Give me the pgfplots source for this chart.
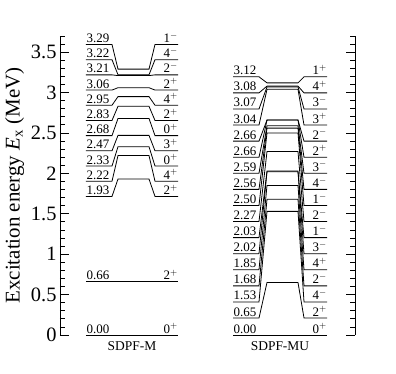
\documentclass[border=0pt]{standalone}
\usepackage{fontspec}
\setmainfont{Liberation Serif}
\usepackage{pgfplots}
\pgfplotsset{compat=1.18}
\tikzset{
  lvl/.style={black, line width=0.8pt, mark=none},
  elab/.style={anchor=base west, inner sep=0pt, yshift=2bp, font=\fontsize{13}{15}\selectfont},
  slab/.style={anchor=base east, inner sep=0pt, yshift=2bp, font=\fontsize{13}{15}\selectfont},
}
% SDPF-M level: #1 energy, #2 label position, #3 energy text, #4 spin
\newcommand\lvM[4]{%
  \addplot[lvl] coordinates {(86,#2)(112,#2)(118,#1)(149,#1)(155,#2)(178,#2)};
  \node[elab] at (axis cs:86.5,#2) {#3};
  \node[slab] at (axis cs:178,#2) {#4};
}
% SDPF-MU level
\newcommand\lvU[4]{%
  \addplot[lvl] coordinates {(233,#2)(259,#2)(267,#1)(298,#1)(304,#2)(327,#2)};
  \node[elab] at (axis cs:233.5,#2) {#3};
  \node[slab] at (axis cs:327,#2) {#4};
}
\begin{document}
\begin{tikzpicture}
\begin{axis}[
  name=ax,
  scale only axis,
  width=295bp, height=299bp,
  xmin=60, xmax=355, ymin=0, ymax=3.7,
  axis x line=none,
  axis y line=box,
  axis line style={line width=0.8pt},
  ytick={0,0.5,1,1.5,2,2.5,3,3.5},
  minor ytick={0.1,0.2,0.3,0.4,0.6,0.7,0.8,0.9,1.1,1.2,1.3,1.4,1.6,1.7,1.8,1.9,2.1,2.2,2.3,2.4,2.6,2.7,2.8,2.9,3.1,3.2,3.3,3.4,3.6,3.7},
  major tick length=9bp,
  minor tick length=5bp,
  every tick/.style={black, line width=0.8pt},
  tick align=inside,
  ticklabel style={font=\fontsize{20.5}{24}\selectfont},
  /pgf/number format/assume math mode=true,
  ylabel={Excitation energy \textit{E}\textsubscript{x} (MeV)},
  ylabel style={font=\fontsize{21}{25}\selectfont},
  clip=false,
]
% SDPF-M
\addplot[lvl] coordinates {(86,0)(178,0)};
\node[elab] at (axis cs:86.5,0) {0.00};
\node[slab] at (axis cs:178,0) {0$^{+}$};
\addplot[lvl] coordinates {(86,0.66)(178,0.66)};
\node[elab] at (axis cs:86.5,0.66) {0.66};
\node[slab] at (axis cs:178,0.66) {2$^{+}$};
\lvM{1.93}{1.715}{1.93}{2$^{+}$}
\lvM{2.22}{1.903}{2.22}{4$^{+}$}
\lvM{2.33}{2.091}{2.33}{0$^{+}$}
\lvM{2.47}{2.279}{2.47}{3$^{+}$}
\lvM{2.68}{2.467}{2.68}{0$^{+}$}
\lvM{2.83}{2.655}{2.83}{2$^{+}$}
\lvM{2.95}{2.843}{2.95}{4$^{+}$}
\lvM{3.06}{3.031}{3.06}{2$^{+}$}
\lvM{3.21}{3.219}{3.21}{2$^{-}$}
\lvM{3.22}{3.407}{3.22}{4$^{-}$}
\lvM{3.29}{3.595}{3.29}{1$^{-}$}
\node[font=\fontsize{13.5}{15}\selectfont] at (axis cs:132,-0.137) {SDPF-M};
% SDPF-MU
\addplot[lvl] coordinates {(233,0)(327,0)};
\node[elab] at (axis cs:233.5,0) {0.00};
\node[slab] at (axis cs:327,0) {0$^{+}$};
\lvU{0.65}{0.210}{0.65}{2$^{+}$}
\lvU{1.53}{0.409}{1.53}{4$^{-}$}
\lvU{1.68}{0.608}{1.68}{2$^{-}$}
\lvU{1.85}{0.807}{1.85}{4$^{+}$}
\lvU{2.02}{1.006}{2.02}{3$^{-}$}
\lvU{2.03}{1.205}{2.03}{1$^{-}$}
\lvU{2.27}{1.404}{2.27}{2$^{-}$}
\lvU{2.50}{1.603}{2.50}{1$^{-}$}
\lvU{2.56}{1.802}{2.56}{4$^{-}$}
\lvU{2.59}{2.001}{2.59}{3$^{-}$}
\lvU{2.66}{2.200}{2.66}{2$^{+}$}
\lvU{2.66}{2.399}{2.66}{2$^{-}$}
\lvU{3.04}{2.598}{3.04}{3$^{+}$}
\lvU{3.07}{2.797}{3.07}{3$^{-}$}
\lvU{3.08}{2.996}{3.08}{4$^{+}$}
\lvU{3.12}{3.195}{3.12}{1$^{+}$}
\node[font=\fontsize{13.5}{15}\selectfont] at (axis cs:280,-0.137) {SDPF-MU};
\end{axis}
\pgfresetboundingbox
\path (ax.south west) ++(-60bp,-39bp) rectangle ++(396bp,374bp);
\end{tikzpicture}
\end{document}
